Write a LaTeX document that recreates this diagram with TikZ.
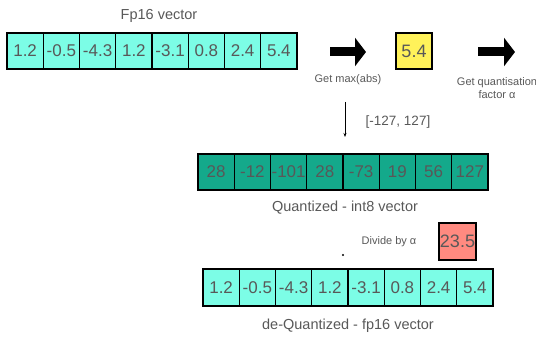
\documentclass[tikz,border=0pt]{standalone}
\usepackage{fontspec}
\setmainfont{Liberation Sans}
\usetikzlibrary{arrows.meta}
\definecolor{cyanbox}{HTML}{7CFDE6}
\definecolor{tealbox}{HTML}{14A98B}
\definecolor{yellowbox}{HTML}{FFF25A}
\definecolor{redbox}{HTML}{FF8A80}
\definecolor{txtgray}{HTML}{585858}
\begin{document}
\begin{tikzpicture}[x=1pt,y=1pt,
  cell/.style={draw=black,line width=1.2pt,minimum width=36.25pt,minimum height=36pt,inner sep=0pt,text=txtgray,font=\fontsize{17}{17}\selectfont},
  bigcell/.style={cell,minimum width=36pt,minimum height=36pt,font=\fontsize{18}{18}\selectfont},
  label/.style={text=txtgray,font=\fontsize{14.5}{17}\selectfont,inner sep=0pt},
  small/.style={text=txtgray,font=\fontsize{11}{13}\selectfont,inner sep=0pt,align=center},
  blockarrow/.style={line width=9pt,-{Triangle[length=11pt,width=28pt]}}]
\useasboundingbox (0,0) rectangle (536,338);
% top fp16 row
\foreach \v [count=\i] in {1.2,-0.5,-4.3,1.2,-3.1,0.8,2.4,5.4}
  \node[cell,fill=cyanbox] (t\i) at ({7+36.25*(\i-0.5)},287) {\v};
\node[label] (tl) at (159,322) {Fp16 vector};
% arrow 1
\coordinate (a1s) at (330,286);
\coordinate (a1e) at (366,286);
\draw[blockarrow] (a1s) -- (a1e);
\node[small] (gm) at (348,258) {Get max(abs)};
% yellow
\node[bigcell,fill=yellowbox] (y) at (414,287) {5.4};
% arrow 2
\coordinate (a2s) at (478,286);
\coordinate (a2e) at (515,286);
\draw[blockarrow] (a2s) -- (a2e);
\node[small] (gq) at (497,249.5) {Get quantisation\\factor α};
% vertical arrow
\coordinate (vs) at (345,236);
\coordinate (ve) at (345,201);
\draw[line width=0.6pt,-{Stealth[length=4pt,width=3pt]}] (vs) -- (ve);
\node[text=txtgray,font=\fontsize{13.5}{15}\selectfont,inner sep=0pt] (rg) at (398,216) {[-127, 127]};
% int8 row
\foreach \v [count=\i] in {28,-12,-101,28,-73,19,56,127}
  \node[cell,fill=tealbox] (q\i) at ({198+36.25*(\i-0.5)},166) {\v};
\node[label] (ql) at (345,130) {Quantized - int8 vector};
% divide
\node[small] (dv) at (389,96) {Divide by α};
\node[bigcell,fill=redbox,minimum width=37pt,minimum height=37pt] (r) at (457.5,96.5) {23.5};
\fill (343,83) circle (1.1pt);
% bottom row
\foreach \v [count=\i] in {1.2,-0.5,-4.3,1.2,-3.1,0.8,2.4,5.4}
  \node[cell,fill=cyanbox,minimum height=37pt] (b\i) at ({203+36.25*(\i-0.5)},50.5) {\v};
\node[label] (bl) at (348,12) {de-Quantized - fp16 vector};
\end{tikzpicture}
\end{document}
